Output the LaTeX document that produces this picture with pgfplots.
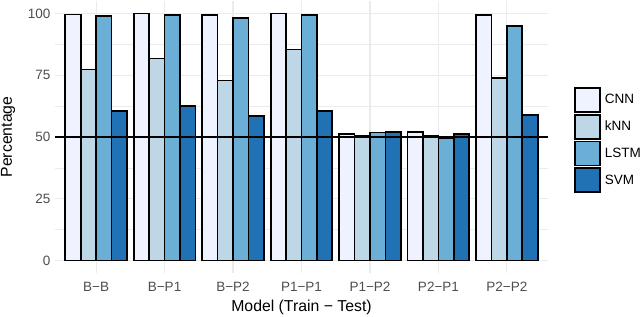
\documentclass[border=0pt]{standalone}
\usepackage{pgfplots}
\usepackage{pgfplotstable}
\pgfplotsset{compat=1.18}
\usepackage{fontspec}
\setmainfont{Liberation Sans}
\definecolor{cnn}{HTML}{EFF3FF}
\definecolor{knn}{HTML}{BDD7E7}
\definecolor{lstm}{HTML}{6BAED6}
\definecolor{svm}{HTML}{2171B5}
\definecolor{gridc}{HTML}{EBEBEB}
\definecolor{tickc}{HTML}{4D4D4D}
\pgfplotstableread{
g CNN kNN LSTM SVM
1 99.6 77.3 98.9 60.5
2 100 81.8 99.4 62.4
3 99.4 72.8 98.2 58.5
4 100 85.4 99.4 60.6
5 51.1 50.4 51.8 52.0
6 52.0 50.4 49.7 51.2
7 99.4 73.9 94.9 58.8
}\data
\begin{document}
\begin{tikzpicture}[x=1bp,y=1bp]
\useasboundingbox (0,0) rectangle (640,-316);
\begin{axis}[
  at={(55bp,-1bp)}, anchor=north west,
  scale only axis, width=493bp, height=272bp,
  xmin=0.4, xmax=7.6, ymin=-5, ymax=105,
  /pgf/number format/assume math mode=true,
  axis line style={draw=none},
  tick style={draw=none},
  xtick={1,...,7},
  xticklabels={B−B,B−P1,B−P2,P1−P1,P1−P2,P2−P1,P2−P2},
  ytick={0,25,50,75,100},
  minor ytick={12.5,37.5,62.5,87.5},
  xmajorgrids, ymajorgrids, yminorgrids,
  major grid style={gridc, line width=1.1bp},
  minor grid style={gridc, line width=0.55bp},
  tick label style={font=\fontsize{13.5bp}{15bp}\selectfont, text=tickc},
  yticklabel style={anchor=east, xshift=-1bp},
  xticklabel style={anchor=center, yshift=-14bp, text height=9.7bp},
  xlabel={Model (Train − Test)},
  ylabel={Percentage},
  every axis x label/.style={at={(axis description cs:0.5,-0.1268)}, anchor=center, font=\fontsize{15.8bp}{17bp}\selectfont},
  every axis y label/.style={at={(axis description cs:-0.0953,0.5)}, anchor=center, rotate=90, font=\fontsize{15.8bp}{17bp}\selectfont},
  legend style={at={(1,0.5)}, anchor=west, xshift=26bp, yshift=-3bp,
    draw=none, fill=none, inner sep=0pt, row sep=1bp,
    font=\fontsize{13.5bp}{15bp}\selectfont,
    nodes={inner sep=0pt, anchor=west}},
  legend cell align=left,
  legend image code/.code={\draw[#1,line width=1.7bp] (0bp,-12bp) rectangle (25bp,12bp);},
]
\addplot[ybar, bar width=0.225, bar shift=-0.3375, fill=cnn, draw=black, line width=1.7bp] table[x=g,y=CNN]{\data};
\addplot[ybar, bar width=0.225, bar shift=-0.1125, fill=knn, draw=black, line width=1.7bp] table[x=g,y=kNN]{\data};
\addplot[ybar, bar width=0.225, bar shift=0.1125, fill=lstm, draw=black, line width=1.7bp] table[x=g,y=LSTM]{\data};
\addplot[ybar, bar width=0.225, bar shift=0.3375, fill=svm, draw=black, line width=1.7bp] table[x=g,y=SVM]{\data};
\legend{\hspace{4bp}CNN,\hspace{4bp}kNN,\hspace{4bp}LSTM,\hspace{4bp}SVM}
\addplot[black, line width=1.6bp, forget plot] coordinates {(0.4,50) (7.6,50)};
\end{axis}
\end{tikzpicture}
\end{document}
